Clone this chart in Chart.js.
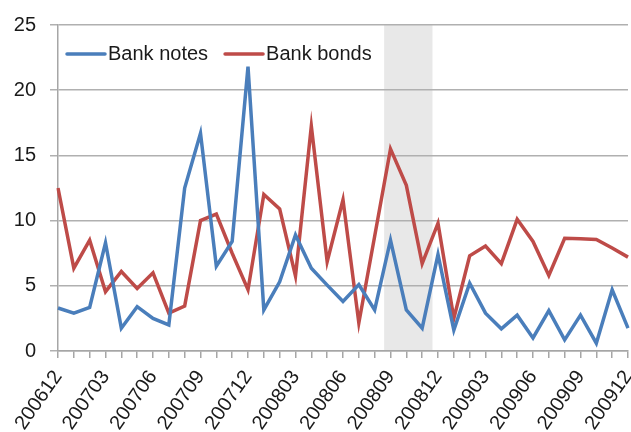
<!DOCTYPE html>
<html>
<head>
<meta charset="utf-8">
<script src="https://cdn.jsdelivr.net/npm/chart.js@4.4.1/dist/chart.umd.min.js"></script>
<style>
  html, body { margin: 0; padding: 0; background: #ffffff; }
  #wrap { width: 631px; height: 432px; }
</style>
</head>
<body>
<div id="wrap"><canvas id="c" width="631" height="432"></canvas></div>
<script>
const months = ['200612','200701','200702','200703','200704','200705','200706','200707','200708','200709','200710','200711','200712',
  '200801','200802','200803','200804','200805','200806','200807','200808','200809','200810','200811','200812',
  '200901','200902','200903','200904','200905','200906','200907','200908','200909','200910','200911','200912'];
const bankNotes = [3.3, 2.9, 3.35, 8.3, 1.75, 3.4, 2.5, 2.0, 12.5, 16.7, 6.5, 8.4, 21.8,
  3.15, 5.3, 8.9, 6.35, 5.05, 3.8, 5.1, 3.15, 8.5, 3.15, 1.75, 7.4,
  1.6, 5.2, 2.9, 1.7, 2.75, 1.0, 3.1, 0.85, 2.75, 0.6, 4.7, 1.75];
const bankBonds = [12.5, 6.35, 8.5, 4.55, 6.1, 4.8, 6.0, 2.9, 3.45, 10.0, 10.5, 7.5, 4.7,
  12.0, 10.9, 5.75, 17.25, 6.85, 11.6, 2.15, 8.8, 15.5, 12.7, 6.7, 9.8,
  2.5, 7.3, 8.05, 6.7, 10.1, 8.4, 5.8, 8.65, 8.6, 8.55, 7.9, 7.2];
const seriesNames = ['Bank notes', 'Bank bonds'];
const seriesColors = ['#4a7ebb', '#be4b48'];
const shadeFrom = 20.6;   // category-index position of shaded band start
const shadeTo = 23.65;    // category-index position of shaded band end

const FONT = '"Liberation Sans", Arial, sans-serif';

const shadePlugin = {
  id: 'shade',
  beforeDraw(chart) {
    const {ctx, chartArea, scales} = chart;
    const x0 = scales.x.getPixelForValue(shadeFrom);
    const x1 = scales.x.getPixelForValue(shadeTo);
    ctx.save();
    ctx.fillStyle = '#e8e8e8';
    ctx.fillRect(x0, chartArea.top, x1 - x0, chartArea.bottom - chartArea.top);
    ctx.restore();
  }
};

const legendPlugin = {
  id: 'inlineLegend',
  afterDatasetsDraw(chart) {
    const {ctx, chartArea} = chart;
    ctx.save();
    ctx.font = '20px ' + FONT;
    ctx.textBaseline = 'middle';
    let x = chartArea.left + 9;
    const y = chartArea.top + 29;
    chart.data.datasets.forEach((ds) => {
      ctx.strokeStyle = ds.borderColor;
      ctx.lineWidth = 3.5;
      ctx.lineCap = 'round';
      ctx.beginPath();
      ctx.moveTo(x, y);
      ctx.lineTo(x + 38, y);
      ctx.stroke();
      ctx.fillStyle = '#1a1a1a';
      ctx.fillText(ds.label, x + 41, y);
      x += 41 + ctx.measureText(ds.label).width + 17;
    });
    ctx.restore();
  }
};

new Chart(document.getElementById('c'), {
  type: 'line',
  data: {
    labels: months,
    datasets: [
      { label: seriesNames[0], data: bankNotes, borderColor: seriesColors[0], backgroundColor: seriesColors[0],
        borderWidth: 3.5, pointRadius: 0, tension: 0, borderJoinStyle: 'miter' },
      { label: seriesNames[1], data: bankBonds, borderColor: seriesColors[1], backgroundColor: seriesColors[1],
        borderWidth: 3.5, pointRadius: 0, tension: 0, borderJoinStyle: 'miter' }
    ]
  },
  options: {
    responsive: false,
    animation: false,
    devicePixelRatio: 1,
    layout: { padding: { top: 25, right: 3, left: 0, bottom: 0 } },
    plugins: { legend: { display: false }, tooltip: { enabled: false } },
    scales: {
      x: {
        type: 'category',
        offset: false,
        grid: { display: true, drawOnChartArea: false, drawTicks: true, tickLength: 7, color: '#a6a6a6', lineWidth: 1.5 },
        border: { display: true, color: '#a6a6a6', width: 1.5 },
        ticks: {
          autoSkip: false,
          maxRotation: 55, minRotation: 55,
          padding: 8,
          color: '#1a1a1a',
          font: { family: FONT, size: 20 },
          callback: function(val, idx) { return idx % 3 === 0 ? this.getLabelForValue(val) : ''; }
        },
        afterFit(scale) { scale.height = 81; scale.paddingLeft = 0; scale.paddingRight = 0; }
      },
      y: {
        min: 0, max: 25,
        ticks: { stepSize: 5, padding: 14, color: '#1a1a1a', font: { family: FONT, size: 20 } },
        grid: { color: '#b0b0b0', lineWidth: 1.5, tickLength: 8, drawTicks: true },
        border: { display: true, color: '#a6a6a6', width: 1.5 },
        afterFit(scale) { scale.width = 58; scale.paddingTop = 0; scale.paddingBottom = 0; }
      }
    }
  },
  plugins: [shadePlugin, legendPlugin]
});
</script>
</body>
</html>
